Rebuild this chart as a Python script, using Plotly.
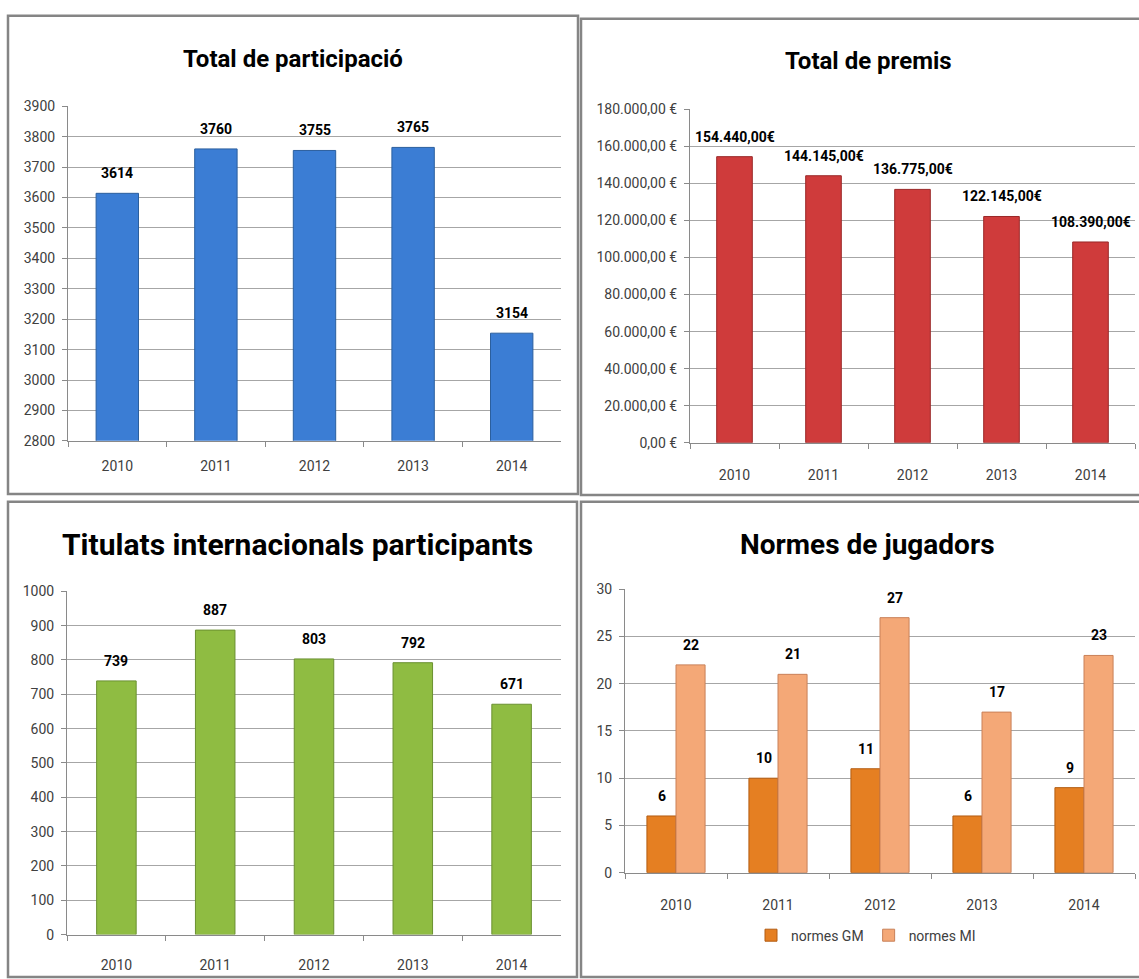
import plotly.graph_objects as go

# Values
years = ['2010', '2011', '2012', '2013', '2014']
participacio = [3614, 3760, 3755, 3765, 3154]
premis = [154440, 144145, 136775, 122145, 108390]
titulats = [739, 887, 803, 792, 671]
normes_gm = [6, 10, 11, 6, 9]
normes_mi = [22, 21, 27, 17, 23]

W, H = 1139, 979
FONT = 'Roboto, sans-serif'


def fx(px):
    return px / W


def fy(px):
    return 1 - px / H


def eur(v):
    # 154440 -> 154.440,00€
    return f'{v:,.2f}'.replace(',', 'X').replace('.', ',').replace('X', '.') + '€'


fig = go.Figure()

fig.add_trace(go.Bar(x=years, y=participacio, width=0.43, xaxis='x', yaxis='y',
                     marker=dict(color='#3b7dd4', line=dict(color='#2b5f9e', width=1)),
                     showlegend=False))
fig.add_trace(go.Bar(x=years, y=premis, width=0.40, xaxis='x2', yaxis='y2',
                     marker=dict(color='#cf3b3b', line=dict(color='#9a2828', width=1)),
                     showlegend=False))
fig.add_trace(go.Bar(x=years, y=titulats, width=0.40, xaxis='x3', yaxis='y3',
                     marker=dict(color='#8fbc42', line=dict(color='#6a9030', width=1)),
                     showlegend=False))
fig.add_trace(go.Bar(x=years, y=normes_gm, name='normes GM', xaxis='x4', yaxis='y4',
                     marker=dict(color='#e57f22', line=dict(color='#b35c12', width=1))))
fig.add_trace(go.Bar(x=years, y=normes_mi, name='normes MI', xaxis='x4', yaxis='y4',
                     marker=dict(color='#f4a877', line=dict(color='#c98058', width=1))))

# value labels (category axes take the index here, '2010' would be read as a number)
annotations = []
lab = dict(showarrow=False, font=dict(family=FONT, size=14, color='#000000'), yshift=20)
for i, v in enumerate(participacio):
    annotations.append(dict(x=i, y=v, xref='x', yref='y', text=f'<b>{v}</b>', **lab))
for i, v in enumerate(premis):
    annotations.append(dict(x=i, y=v, xref='x2', yref='y2', text=f'<b>{eur(v)}</b>', **lab))
for i, v in enumerate(titulats):
    annotations.append(dict(x=i, y=v, xref='x3', yref='y3', text=f'<b>{v}</b>', **lab))
for i, v in enumerate(normes_gm):
    annotations.append(dict(x=i, y=v, xref='x4', yref='y4', text=f'<b>{v}</b>', xshift=-14.5, **lab))
for i, v in enumerate(normes_mi):
    annotations.append(dict(x=i, y=v, xref='x4', yref='y4', text=f'<b>{v}</b>', xshift=14.5, **lab))

# chart titles
titles = [('Total de participació', 293, 52, 24),
          ('Total de premis', 868, 54, 24),
          ('Titulats internacionals participants', 297, 545, 30),
          ('Normes de jugadors', 867, 545, 28)]
for t, x, y, s in titles:
    annotations.append(dict(text=f'<b>{t}</b>', x=fx(x), y=fy(y), xref='paper', yref='paper',
                            showarrow=False, xanchor='center', yanchor='middle',
                            font=dict(family=FONT, size=s, color='#000000')))

# panel frames
shapes = []
for x0, y0, x1, y1 in [(8, 8, 578, 494), (581, 11, 1142, 495),
                       (8, 502, 577, 985), (581, 502, 1142, 985)]:
    shapes.append(dict(type='rect', xref='paper', yref='paper',
                       x0=fx(x0), x1=fx(x1), y0=fy(y1), y1=fy(y0),
                       line=dict(color='#858585', width=2.5)))

tickfont = dict(family=FONT, size=14, color='#404040')


def xax(dom, anchor, standoff):
    return dict(domain=[fx(dom[0]), fx(dom[1])], anchor=anchor, type='category',
                range=[-0.5, 4.5], tickson='boundaries', ticks='outside', ticklen=5,
                tickcolor='#8a8a8a', showline=True, linecolor='#8a8a8a', linewidth=1,
                showgrid=False, tickangle=0, tickfont=tickfont,
                ticklabelstandoff=standoff, fixedrange=True)


def yax(dom, anchor, rng, dtick, **kw):
    return dict(domain=[fy(dom[1]), fy(dom[0])], anchor=anchor, range=rng, dtick=dtick,
                tick0=rng[0], ticks='outside', ticklen=5, tickcolor='#8a8a8a',
                showline=True, linecolor='#8a8a8a', linewidth=1, showgrid=True,
                gridcolor='#a6a6a6', gridwidth=1, zeroline=False, tickfont=tickfont,
                ticklabelstandoff=4, fixedrange=True, **kw)


fig.update_layout(
    width=W, height=H,
    margin=dict(l=0, r=0, t=0, b=0),
    paper_bgcolor='white', plot_bgcolor='white',
    separators=',.',
    barmode='group', bargap=0.43, bargroupgap=0,
    xaxis=xax((68, 561), 'y', 12),
    yaxis=yax((100, 440), 'x', [2800, 3900], 100, tickformat='d'),
    xaxis2=xax((690, 1135), 'y2', 19),
    yaxis2=yax((103, 442), 'x2', [0, 180000], 20000, tickformat=',.2f', ticksuffix=' €'),
    xaxis3=xax((67, 561), 'y3', 18),
    yaxis3=yax((593, 942), 'x3', [0, 1000], 100, tickformat='d'),
    xaxis4=xax((625, 1135), 'y4', 20),
    yaxis4=yax((591, 879), 'x4', [0, 30], 5, tickformat='d'),
    legend=dict(orientation='h', x=fx(866), xanchor='center', y=fy(943), yanchor='middle',
                font=dict(family=FONT, size=14, color='#404040'), itemwidth=30,
                bgcolor='rgba(0,0,0,0)'),
    annotations=annotations,
    shapes=shapes,
)

# the page body has an 8px default margin; drop it so the figure sits at the corner
fig.write_html('out.html', config={'displayModeBar': False},
               post_script="document.body.style.margin='0px';")
